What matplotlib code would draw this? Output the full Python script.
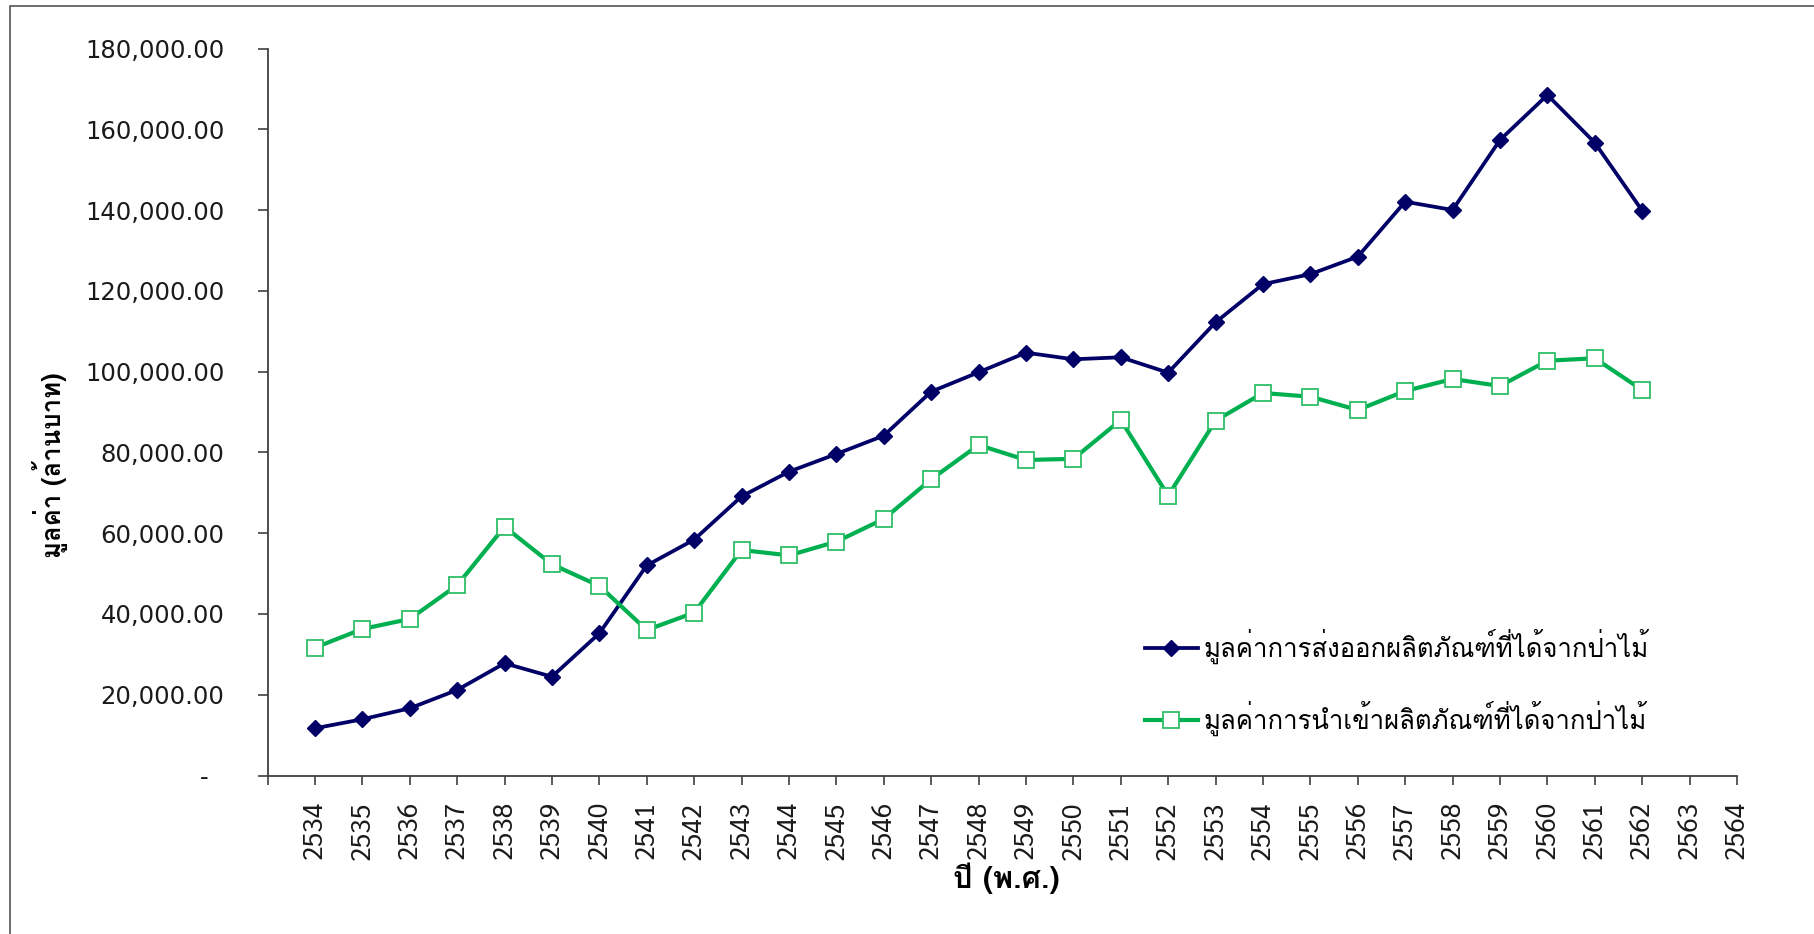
import matplotlib
matplotlib.use("Agg")
import matplotlib.pyplot as plt
from matplotlib.patches import Rectangle
from matplotlib.ticker import FuncFormatter

# ---------------- data ----------------
years = list(range(2534, 2563))
export_values = [11690, 13920, 16640, 21170, 27780, 24460, 35200, 52000, 58400, 69100,
                 75220, 79600, 84140, 95030, 99830, 104690, 103050, 103550, 99740, 112210,
                 121650, 124130, 128460, 142070, 140020, 157350, 168490, 156680, 139850]
import_values = [31650, 36270, 38750, 47090, 61600, 52290, 46950, 36030, 40310, 55830,
                 54500, 57890, 63510, 73330, 81830, 78120, 78400, 88020, 69280, 87850,
                 94700, 93790, 90500, 95200, 98170, 96440, 102700, 103300, 95450]
tick_years = list(range(2533, 2565))
y_ticks = [0, 20000, 40000, 60000, 80000, 100000, 120000, 140000, 160000, 180000]

export_label = "มูลค่าการส่งออกผลิตภัณฑ์ที่ได้จากป่าไม้"
import_label = "มูลค่าการนำเข้าผลิตภัณฑ์ที่ได้จากป่าไม้"
x_title = "ปี (พ.ศ.)"
y_title = "มูลค่า (ล้านบาท)"

THAI = ["Loma", "DejaVu Sans"]
DIGITS = ["Sarabun", "DejaVu Sans"]
plt.rcParams["font.family"] = THAI

W, H, DPI = 1814, 934, 100
fig = plt.figure(figsize=(W / DPI, H / DPI), dpi=DPI)
fig.patch.set_facecolor("white")

left, right = 267.5 / W, 1737 / W
bottom, top = 1 - 775.5 / H, 1 - 48.5 / H
ax = fig.add_axes([left, bottom, right - left, top - bottom])

navy = "#000066"
green = "#00B050"

ax.plot(years, export_values, color=navy, lw=2.7, marker="D", ms=8.4,
        mfc=navy, mec=navy, label=export_label, zorder=3)
ax.plot(years, import_values, color=green, lw=3.0, marker="s", ms=11.3,
        mfc="white", mec="#2DBE68", mew=1.3, label=import_label, zorder=3)

ax.set_xlim(2533, 2564)
ax.set_ylim(0, 180000)
ax.set_xticks(tick_years)
ax.set_xticklabels([""] + [str(y) for y in tick_years[1:]], rotation=90,
                   fontsize=19, family=DIGITS)
ax.set_yticks(y_ticks)
ax.yaxis.set_major_formatter(FuncFormatter(lambda v, p: "-  " if v == 0 else f"{v:,.2f}"))

for s in ["top", "right"]:
    ax.spines[s].set_visible(False)
for s in ["left", "bottom"]:
    ax.spines[s].set_color("#404040")
    ax.spines[s].set_linewidth(1.3)

ax.tick_params(axis="y", direction="out", length=7, width=1.2, color="#404040",
               labelsize=17.5, pad=24, labelcolor="#1a1a1a")
ax.tick_params(axis="x", direction="out", length=6.5, width=1.2, color="#404040",
               pad=12, labelcolor="#1a1a1a")
for lab in ax.get_yticklabels():
    lab.set_family(["DejaVu Sans"])

fig.text(1006 / W, 1 - 878 / H, x_title, ha="center", va="center",
         fontsize=22, fontweight="bold")
fig.text(50 / W, 1 - 465 / H, y_title, ha="center", va="center", rotation=90,
         fontsize=18.5, fontweight="bold")

leg = ax.legend(loc="center left", bbox_to_anchor=(1145 / W, 1 - 682.5 / H),
                bbox_transform=fig.transFigure, frameon=False, fontsize=18.5,
                borderaxespad=0, borderpad=0,
                handlelength=2.06, handletextpad=0.2, labelspacing=1.45)

fig.add_artist(Rectangle((10 / W, -0.05), 1.2, 1 - 6 / H + 0.05, transform=fig.transFigure,
                         fill=False, edgecolor="#555555", lw=1.2))

fig.savefig("out.png", dpi=DPI, facecolor="white")
